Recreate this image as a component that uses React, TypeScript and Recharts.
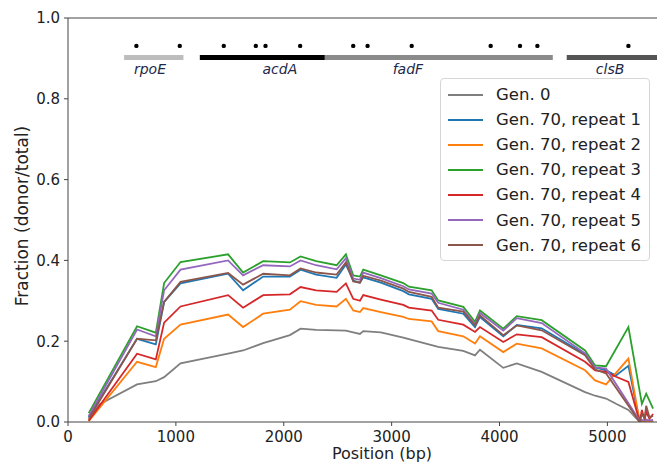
import React from 'react';
import { ComposedChart, Line, XAxis, YAxis, ReferenceLine, ReferenceDot } from 'recharts';

const positions = [
  192, 294, 640, 814, 891, 1043, 1484, 1623, 1809, 2057, 2156, 2300, 2490, 2576, 2644, 2706, 2737, 2900, 3108, 3160,
  3371, 3432, 3664, 3773, 3819, 4035, 4160, 4391, 4793, 4886, 4988, 5080, 5195, 5300, 5320, 5345, 5360, 5390, 5424,
];

const gen0 = [
  0.005, 0.044, 0.093, 0.101, 0.111, 0.145, 0.169, 0.177, 0.195, 0.215, 0.231, 0.228, 0.227, 0.226, 0.222, 0.218, 0.225, 0.222, 0.209, 0.205,
  0.19, 0.186, 0.176, 0.165, 0.179, 0.134, 0.145, 0.124, 0.074, 0.065, 0.058, 0.045, 0.03, 0.0, null, null, null, null, null,
];
const rep1 = [
  0.012, null, 0.206, 0.192, 0.297, 0.343, 0.367, 0.326, 0.36, 0.36, 0.377, 0.365, 0.357, 0.39, 0.35, 0.345, 0.358, 0.345, 0.324, 0.316,
  0.305, 0.28, 0.268, 0.235, 0.26, 0.212, 0.24, 0.232, 0.168, 0.135, 0.128, 0.115, 0.139, 0.0, 0.004, 0.002, 0.004, 0.002, 0.003,
];
const rep2 = [
  0.002, null, 0.149, 0.136, 0.206, 0.241, 0.266, 0.235, 0.268, 0.278, 0.299, 0.29, 0.286, 0.305, 0.276, 0.272, 0.282, 0.272, 0.26, 0.255,
  0.249, 0.225, 0.212, 0.194, 0.212, 0.173, 0.194, 0.182, 0.128, 0.103, 0.093, null, 0.157, 0.0, 0.003, 0.002, 0.003, 0.002, 0.003,
];
const rep3 = [
  0.022, null, 0.237, 0.221, 0.344, 0.396, 0.415, 0.37, 0.398, 0.395, 0.41, 0.398, 0.388, 0.415, 0.363, 0.36, 0.377, 0.363, 0.344, 0.335,
  0.326, 0.301, 0.285, 0.248, 0.276, 0.231, 0.262, 0.252, 0.177, 0.14, 0.138, null, 0.235, null, 0.045, null, 0.07, null, 0.033,
];
const rep4 = [
  0.003, null, 0.169, 0.155, 0.246, 0.286, 0.314, 0.283, 0.314, 0.316, 0.334, 0.326, 0.322, 0.343, 0.305, 0.3, 0.314, 0.303, 0.29, 0.283,
  0.276, 0.253, 0.241, 0.223, 0.235, 0.198, 0.217, 0.21, 0.149, 0.128, 0.124, 0.112, 0.099, 0.0, 0.03, 0.005, 0.025, 0.008, 0.02,
];
const rep5 = [
  0.015, null, 0.229, 0.212, 0.326, 0.377, 0.4, 0.363, 0.388, 0.385, 0.4, 0.388, 0.378, 0.405, 0.355, 0.352, 0.37, 0.356, 0.336, 0.328,
  0.318, 0.295, 0.278, 0.242, 0.27, 0.226, 0.257, 0.245, 0.17, 0.135, 0.132, null, null, 0.003, 0.005, 0.003, 0.006, 0.004, 0.005,
];
const rep6 = [
  0.008, null, 0.206, 0.202, 0.297, 0.347, 0.369, 0.34, 0.367, 0.363, 0.38, 0.37, 0.365, 0.395, 0.348, 0.345, 0.362, 0.35, 0.33, 0.322,
  0.31, 0.283, 0.273, 0.239, 0.264, 0.215, 0.239, 0.227, 0.165, 0.13, 0.12, null, null, 0.0, 0.02, 0.01, 0.04, 0.012, 0.015,
];

const seriesNames = [
  'Gen. 0',
  'Gen. 70, repeat 1',
  'Gen. 70, repeat 2',
  'Gen. 70, repeat 3',
  'Gen. 70, repeat 4',
  'Gen. 70, repeat 5',
  'Gen. 70, repeat 6',
];
const seriesValues = [gen0, rep1, rep2, rep3, rep4, rep5, rep6];
const seriesColors = ['#7f7f7f', '#1f77b4', '#ff7f0e', '#2ca02c', '#d62728', '#9467bd', '#8c564b'];

const xTicks = [0, 1000, 2000, 3000, 4000, 5000];
const yTicks = [0, 0.2, 0.4, 0.6, 0.8, 1.0];

// gene annotations along the top
const geneNames = ['rpoE', 'acdA', 'fadF', 'clsB'];
const geneStart = [520, 1222, 2381, 4623];
const geneEnd = [1070, 2381, 4494, 5460];
const geneLabelPos = [760, 1964, 3151, 5025];
const geneBarY = 0.902;
const geneLabelY = 0.873;
const geneColors = ['#bdbdbd', '#000000', '#8a8a8a', '#555555'];

const mutationPos = [634, 1036, 1444, 1741, 1831, 2152, 2644, 2777, 3186, 3918, 4190, 4351, 5195];
const mutationY = 0.931;

const rows = positions.map((pos, i) => {
  const row: Record<string, number | null> = { pos };
  seriesNames.forEach((name, s) => {
    row[name] = seriesValues[s][i];
  });
  return row;
});

const font = 'DejaVu Sans, sans-serif';

const LegendBox = () => (
  <div
    style={{
      position: 'absolute',
      left: 440,
      top: 78,
      width: 210,
      boxSizing: 'border-box',
      border: '1px solid #d6d6d6',
      borderRadius: 4,
      background: 'rgba(255,255,255,0.85)',
      padding: '3px 0 2px 0',
      fontFamily: font,
      fontSize: 16.5,
      color: '#222',
    }}
  >
    {seriesNames.map((name, i) => (
      <div key={name} style={{ display: 'flex', alignItems: 'center', height: 25.1 }}>
        <div style={{ width: 35, height: 2, background: seriesColors[i], marginLeft: 7, marginRight: 13 }} />
        <span style={{ whiteSpace: 'nowrap' }}>{name}</span>
      </div>
    ))}
  </div>
);

export default function App() {
  const tickStyle = { fontFamily: font, fontSize: 15, fill: '#222' };
  return (
    <div style={{ position: 'absolute', left: 0, top: 0, width: 657, height: 464, background: '#fff', overflow: 'hidden' }}>
      <ComposedChart width={657} height={464} data={rows} margin={{ top: 18, right: 0, bottom: 0, left: 0 }}>
        <XAxis
          dataKey='pos'
          type='number'
          domain={[0, 5460]}
          ticks={xTicks}
          allowDataOverflow
          height={42}
          stroke='#444'
          tickSize={4}
          tickMargin={5}
          tick={tickStyle}
        />
        <YAxis
          type='number'
          domain={[0, 1]}
          ticks={yTicks}
          allowDataOverflow
          width={68}
          stroke='#444'
          tickSize={4}
          tickMargin={4}
          tick={tickStyle}
          tickFormatter={(t: number) => t.toFixed(1)}
        />
        <ReferenceLine y={1} stroke='#444' strokeWidth={1} />

        {geneNames.map((g, i) => (
          <ReferenceLine
            key={g}
            segment={[
              { x: geneStart[i], y: geneBarY },
              { x: geneEnd[i], y: geneBarY },
            ]}
            stroke={geneColors[i]}
            strokeWidth={5}
            ifOverflow='extendDomain'
          />
        ))}
        {geneNames.map((g, i) => (
          <ReferenceDot
            key={'l' + g}
            x={geneLabelPos[i]}
            y={geneLabelY}
            r={0}
            fill='none'
            stroke='none'
            label={{
              value: g,
              position: 'center',
              fontFamily: font,
              fontSize: 14,
              fontStyle: 'italic',
              fill: '#22284a',
            }}
          />
        ))}
        {mutationPos.map((p, i) => (
          <ReferenceDot key={'m' + i} x={p} y={mutationY} r={2.2} fill='#000' stroke='none' />
        ))}

        {seriesNames.map((name, i) => (
          <Line
            key={name}
            dataKey={name}
            name={name}
            type='linear'
            stroke={seriesColors[i]}
            strokeWidth={1.8}
            dot={false}
            connectNulls
            isAnimationActive={false}
          />
        ))}
      </ComposedChart>
      <LegendBox />
      <div
        style={{
          position: 'absolute',
          left: 282,
          width: 200,
          top: 444,
          lineHeight: '19px',
          textAlign: 'center',
          fontFamily: font,
          fontSize: 16,
          color: '#222',
        }}
      >
        Position (bp)
      </div>
      <div
        style={{
          position: 'absolute',
          left: 21.5 - 120,
          top: 215.5 - 11,
          width: 240,
          height: 22,
          lineHeight: '22px',
          textAlign: 'center',
          transform: 'rotate(-90deg)',
          fontFamily: font,
          fontSize: 17,
          color: '#222',
        }}
      >
        Fraction (donor/total)
      </div>
    </div>
  );
}
